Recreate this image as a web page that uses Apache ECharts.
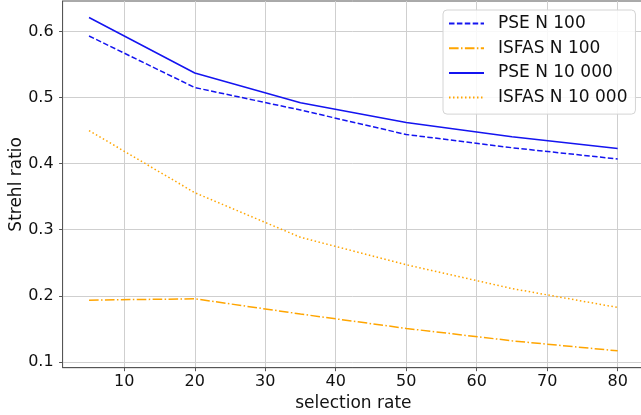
<!DOCTYPE html>
<html>
<head>
<meta charset="utf-8">
<script src="https://cdn.jsdelivr.net/npm/echarts@6/dist/echarts.min.js"></script>
<style>
  html, body { margin: 0; padding: 0; background: #fff; }
  #chart { width: 641px; height: 415px; }
</style>
</head>
<body>
<div id="chart"></div>
<script>
// Selection rates (x) shared by every curve
const selectionRate = [5, 20, 35, 50, 65, 80];

// Strehl ratio per method and sample size
const pseN100     = [0.593, 0.515, 0.481, 0.444, 0.424, 0.407];
const isfasN100   = [0.1935, 0.1955, 0.1725, 0.1507, 0.132, 0.1168];
const pseN10000   = [0.621, 0.537, 0.492, 0.462, 0.4405, 0.423];
const isfasN10000 = [0.450, 0.356, 0.2885, 0.247, 0.211, 0.1824];

// Axis tick labels
const xTicks = [10, 20, 30, 40, 50, 60, 70, 80];
const yTicks = [0.1, 0.2, 0.3, 0.4, 0.5, 0.6];

const FONT = 'DejaVu Sans';
const BLUE = '#1414f0';
const ORANGE = '#ffa500';

function pairs(ys) {
  return selectionRate.map((x, i) => [x, ys[i]]);
}

function lineSeries(name, ys, color, type, width) {
  return {
    name: name,
    type: 'line',
    data: pairs(ys),
    symbol: 'none',
    showSymbol: false,
    lineStyle: { color: color, width: width, type: type, cap: 'butt' },
    itemStyle: { color: color },
    emphasis: { disabled: true }
  };
}

const chart = echarts.init(document.getElementById('chart'), null, { renderer: 'canvas' });

chart.setOption({
  animation: false,
  backgroundColor: '#ffffff',
  textStyle: { fontFamily: FONT },
  grid: {
    left: 62.6, top: 1, width: 581.5, height: 366.7,
    containLabel: false,
    outerBoundsMode: 'none',
    show: true, borderColor: '#555', borderWidth: 1, backgroundColor: 'transparent'
  },
  legend: {
    orient: 'vertical',
    left: 443, top: 10,
    padding: [5, 8, 8, 5],
    itemWidth: 35, itemHeight: 14, itemGap: 7.7,
    itemStyle: { opacity: 0 },
    backgroundColor: 'rgba(255,255,255,0.85)',
    borderColor: '#d4d4d4', borderWidth: 1, borderRadius: 4,
    textStyle: { fontFamily: FONT, fontSize: 17, color: '#111', lineHeight: 17, padding: [0, 0, 0, 9] },
    data: ['PSE N 100', 'ISFAS N 100', 'PSE N 10 000', 'ISFAS N 10 000']
  },
  xAxis: {
    type: 'value',
    min: 1.25, max: 83.75,
    name: 'selection rate',
    nameLocation: 'middle',
    nameGap: 27,
    nameMoveOverlap: false,
    nameTextStyle: { fontFamily: FONT, fontSize: 17, color: '#111' },
    axisLine: { show: true, lineStyle: { color: '#555', width: 1 } },
    axisTick: { show: true, inside: false, length: 3.5, customValues: xTicks, lineStyle: { color: '#555' } },
    axisLabel: { customValues: xTicks, margin: 6, fontFamily: FONT, fontSize: 16, color: '#111' },
    splitLine: { show: true, lineStyle: { color: '#cfcfcf', width: 1 } }
  },
  yAxis: {
    type: 'value',
    min: 0.0913, max: 0.6459,
    name: 'Strehl ratio',
    nameLocation: 'middle',
    nameGap: 38,
    nameMoveOverlap: false,
    nameTextStyle: { fontFamily: FONT, fontSize: 17, color: '#111' },
    axisLine: { show: true, lineStyle: { color: '#555', width: 1 } },
    axisTick: { show: true, inside: false, length: 3.5, customValues: yTicks, lineStyle: { color: '#555' } },
    axisLabel: { customValues: yTicks, margin: 9, fontFamily: FONT, fontSize: 16, color: '#111',
                 formatter: v => v.toFixed(1) },
    splitLine: { show: true, lineStyle: { color: '#cfcfcf', width: 1 } }
  },
  series: [
    lineSeries('PSE N 100', pseN100, BLUE, [5.5, 2.4], 1.5),
    lineSeries('ISFAS N 100', isfasN100, ORANGE, [9.6, 2.4, 1.5, 2.4], 1.5),
    lineSeries('PSE N 10 000', pseN10000, BLUE, 'solid', 1.5),
    lineSeries('ISFAS N 10 000', isfasN10000, ORANGE, [1.5, 2.5], 1.5)
  ]
});
</script>
</body>
</html>
